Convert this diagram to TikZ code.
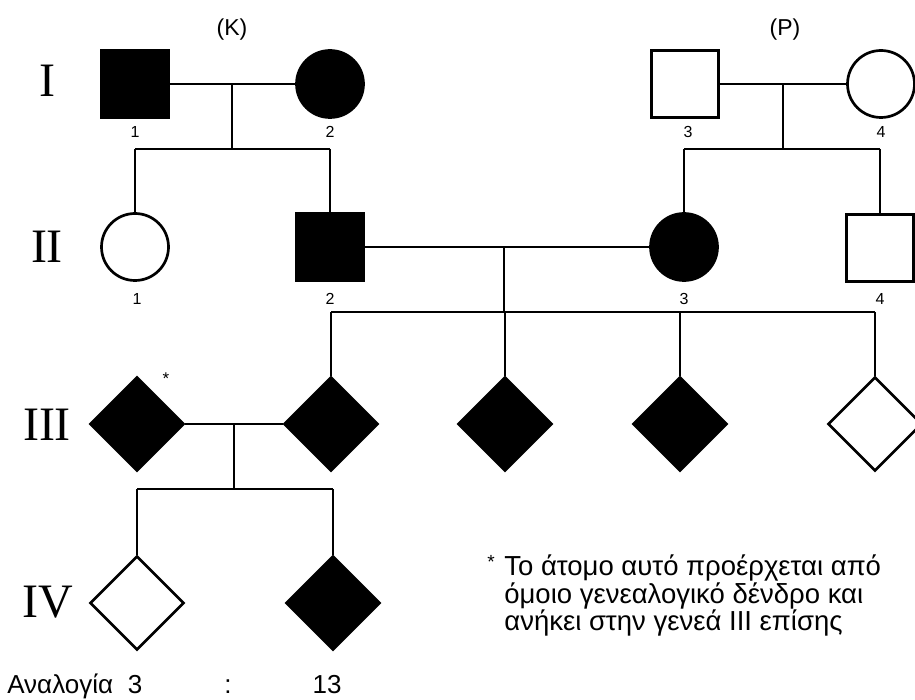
\documentclass[tikz,border=0pt]{standalone}
\usepackage{fontspec}
\setmainfont{Liberation Sans}
\newfontfamily\romfont{Liberation Serif}
\usetikzlibrary{shapes.geometric}
\begin{document}
\begin{tikzpicture}[x=1pt,y=-1pt,line width=2.7pt,
  sq/.style={draw=black,rectangle,minimum size=67pt,inner sep=0pt,line width=2.7pt},
  ci/.style={draw=black,circle,minimum size=67pt,inner sep=0pt,line width=2.7pt},
  dm/.style={draw=black,diamond,aspect=1,minimum width=94pt,minimum height=94pt,inner sep=0pt,line width=2.7pt},
  aff/.style={fill=black},
  unaff/.style={fill=white},
  num/.style={font=\fontsize{16}{16}\selectfont,anchor=base,inner sep=0pt},
  gen/.style={font=\romfont\fontsize{48}{48}\selectfont,anchor=base,inner sep=0pt},
  fam/.style={font=\fontsize{23}{23}\selectfont,anchor=base,inner sep=0pt},
  txt/.style={font=\fontsize{26}{27.5}\selectfont,inner sep=0pt},
  note/.style={font=\fontsize{27.5}{27.5}\selectfont,inner sep=0pt,anchor=base west}]
\useasboundingbox (0,0) rectangle (915,700);
\fill[white] (0,0) rectangle (915,700);

% generation labels
\node[gen] (gI) at (47,97) {I};
\node[gen] (gII) at (47,263) {II};
\node[gen] (gIII) at (47,440) {III};
\node[gen] (gIV) at (48,617) {IV};

% family labels
\node[fam] (K) at (232,36) {(K)};
\node[fam] (P) at (785,36) {(P)};

% generation I
\node[sq,aff] (I1) at (135,84) {};
\node[ci,aff] (I2) at (330,84) {};
\node[sq,unaff] (I3) at (685,84) {};
\node[ci,unaff] (I4) at (881,84) {};
\node[num] (nI1) at (135,138) {1};
\node[num] (nI2) at (330,138) {2};
\node[num] (nI3) at (688,138) {3};
\node[num] (nI4) at (881,138) {4};

% generation II
\node[ci,unaff] (II1) at (135,247) {};
\node[sq,aff] (II2) at (330,247) {};
\node[ci,aff] (II3) at (684,247) {};
\node[sq,unaff] (II4) at (880,248) {};
\node[num] (nII1) at (137,305) {1};
\node[num] (nII2) at (330,305) {2};
\node[num] (nII3) at (684,305) {3};
\node[num] (nII4) at (880,305) {4};

% generation III
\node[dm,aff] (IIIS) at (137,424) {};
\node[dm,aff] (IIIA) at (331,424) {};
\node[dm,aff] (IIIB) at (505,424) {};
\node[dm,aff] (IIIC) at (680,424) {};
\node[dm,unaff] (IIID) at (875,424) {};
\node[num,font=\fontsize{17}{17}\selectfont] (star) at (166,384) {*};

% generation IV
\node[dm,unaff] (IV1) at (137,603) {};
\node[dm,aff] (IV2) at (333,603) {};

% connectors family K
\coordinate (mK) at (232,84);
\coordinate (sK) at (232,149);
\coordinate (sKl) at (135,149);
\coordinate (sKr) at (330,149);
\draw (I1.east) -- (I2.west);
\draw (mK) -- (sK);
\draw (sKl) -- (sKr);
\draw (sKl) -- (II1.north);
\draw (sKr) -- (II2.north);

% connectors family P
\coordinate (mP) at (783,84);
\coordinate (sP) at (783,149);
\coordinate (sPl) at (684,149);
\coordinate (sPr) at (880,149);
\draw (I3.east) -- (I4.west);
\draw (mP) -- (sP);
\draw (sPl) -- (sPr);
\draw (sPl) -- (II3.north);
\draw (sPr) -- (II4.north);

% connectors generation II
\coordinate (mII) at (504,247);
\coordinate (sII) at (504,312);
\draw (II2.east) -- (II3.west);
\draw (mII) -- (sII);
\draw (IIIA.north |- sII) -- (IIID.north |- sII);
\draw (IIIA.north |- sII) -- (IIIA.north);
\draw (IIIB.north |- sII) -- (IIIB.north);
\draw (IIIC.north |- sII) -- (IIIC.north);
\draw (IIID.north |- sII) -- (IIID.north);

% connectors generation III
\coordinate (mIII) at (234,424);
\coordinate (sIII) at (234,489);
\draw (IIIS.east) -- (IIIA.west);
\draw (mIII) -- (sIII);
\draw (IV1.north |- sIII) -- (IV2.north |- sIII);
\draw (IV1.north |- sIII) -- (IV1.north);
\draw (IV2.north |- sIII) -- (IV2.north);

% note
\node[num,font=\fontsize{19}{19}\selectfont] (nstar) at (491,568) {*};
\node[note] (note1) at (503,575) {Το άτομο αυτό προέρχεται από};
\node[note] (note2) at (503,603) {όμοιο γενεαλογικό δένδρο και};
\node[note] (note3) at (503,630) {ανήκει στην γενεά III επίσης};

% ratio
\node[txt,anchor=base west] (rat) at (6,693) {Αναλογία};
\node[txt,anchor=base] (r3) at (135,693) {3};
\node[txt,anchor=base] (rc) at (228,693) {:};
\node[txt,anchor=base] (r13) at (327,693) {13};
\end{tikzpicture}
\end{document}
